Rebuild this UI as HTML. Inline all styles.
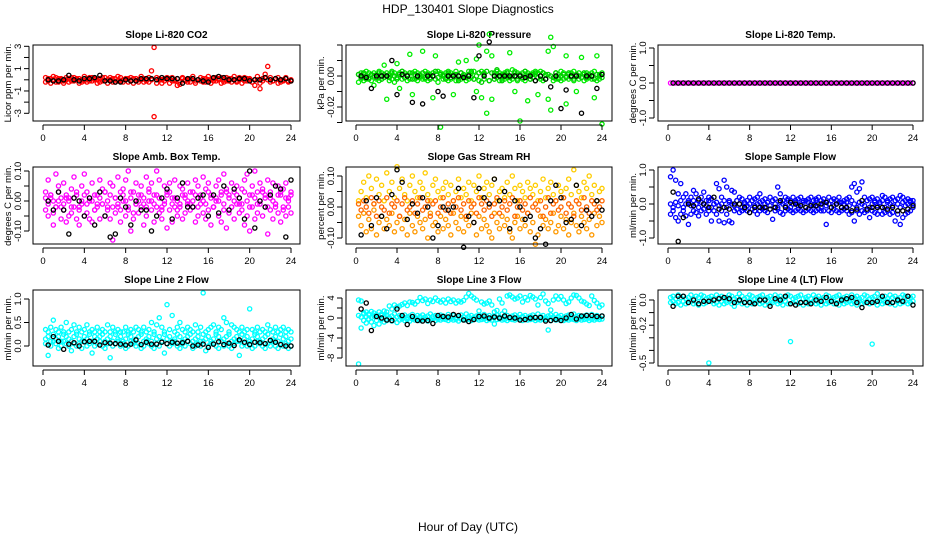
<!DOCTYPE html>
<html><head><meta charset="utf-8">
<style>
html,body{margin:0;padding:0;background:#fff;}
svg{display:block;font-family:"Liberation Sans",sans-serif;}
</style></head>
<body>
<svg id="chart" width="936" height="540" viewBox="0 0 936 540" xmlns="http://www.w3.org/2000/svg">
<text x="468" y="13" text-anchor="middle" font-size="12">HDP_130401  Slope Diagnostics</text>
<text x="468" y="531" text-anchor="middle" font-size="12">Hour of Day (UTC)</text>
</svg>
<script>
const hoursQ=[0.25,0.5,0.75,1,1.25,1.5,1.75,2,2.25,2.5,2.75,3,3.25,3.5,3.75,4,4.25,4.5,4.75,5,5.25,5.5,5.75,6,6.25,6.5,6.75,7,7.25,7.5,7.75,8,8.25,8.5,8.75,9,9.25,9.5,9.75,10,10.25,10.5,10.75,11,11.25,11.5,11.75,12,12.25,12.5,12.75,13,13.25,13.5,13.75,14,14.25,14.5,14.75,15,15.25,15.5,15.75,16,16.25,16.5,16.75,17,17.25,17.5,17.75,18,18.25,18.5,18.75,19,19.25,19.5,19.75,20,20.25,20.5,20.75,21,21.25,21.5,21.75,22,22.25,22.5,22.75,23,23.25,23.5,23.75,24];
const hoursH=[0.5,1,1.5,2,2.5,3,3.5,4,4.5,5,5.5,6,6.5,7,7.5,8,8.5,9,9.5,10,10.5,11,11.5,12,12.5,13,13.5,14,14.5,15,15.5,16,16.5,17,17.5,18,18.5,19,19.5,20,20.5,21,21.5,22,22.5,23,23.5,24];
const xTicks=[0,4,8,12,16,20,24];

// Panel 1: CO2
const co2A=[0.2,-0.1,0.1,0.3,-0.2,0.1,0.0,-0.3,0.2,0.1,-0.1,0.2,0.0,0.1,-0.2,0.3,0.1,-0.1,0.2,0.0,-0.3,0.1,0.2,-0.1,0.0,0.2,-0.2,0.1,0.3,-0.1,0.0,0.1,-0.2,0.2,0.1,-0.1,0.0,0.3,-0.2,0.1,0.2,0.8,2.9,0.2,0.0,-0.3,0.1,0.2,0.1,0.2,-0.1,0.1,-0.4,0.2,0.0,-0.2,0.1,0.3,-0.1,0.0,0.2,-0.2,0.1,0.3,0.0,-0.1,0.2,0.1,-0.3,0.0,0.2,-0.1,0.1,0.3,-0.2,0.0,0.1,0.2,-0.1,0.1,-0.2,0.0,0.3,-0.8,0.1,0.5,1.2,0.2,-0.1,0.1,0.2,-0.2,0.0,0.1,-0.1,0.0];
const co2B=[-0.2,0.1,-0.3,0.0,0.2,-0.2,0.1,-0.1,0.0,-0.2,0.2,-0.1,0.1,-0.3,0.0,-0.1,-0.2,0.2,-0.1,0.1,0.0,-0.2,-0.1,0.2,-0.3,0.0,0.1,-0.2,-0.1,0.2,-0.2,0.0,0.1,-0.1,-0.3,0.1,-0.2,0.0,0.1,-0.1,-0.2,0.0,-3.3,-0.3,0.1,0.0,-0.1,0.1,-0.3,-0.1,0.0,-0.5,-0.2,0.1,-0.1,0.0,-0.2,0.1,-0.3,0.0,-0.1,0.1,-0.2,0.0,-0.3,0.1,-0.1,0.0,0.2,-0.2,-0.1,0.1,-0.2,0.0,-0.1,0.2,-0.3,-0.1,0.1,0.0,-0.2,-0.5,0.0,-0.3,-0.1,0.2,0.0,-0.2,-0.1,0.1,-0.3,0.0,-0.1,0.2,-0.2,-0.1];
const co2K=[0.0,-0.1,-0.1,0.0,0.4,0.0,-0.1,0.1,0.1,0.2,0.4,-0.1,-0.1,-0.2,-0.2,0.0,-0.1,-0.1,0.1,0.1,0.1,0.0,0.2,0.1,0.1,0.1,-0.3,0.1,0.1,0.0,-0.1,-0.2,0.2,0.3,0.2,0.0,0.0,0.1,0.1,-0.1,0.0,0.0,0.2,0.0,0.1,0.0,0.1,-0.1];

// Panel 2: Pressure
const prA=[.001,.002,.001,.003,.002,.001,.002,.001,.003,.002,.007,.002,.001,.003,.002,.008,.002,.003,.002,.001,.014,.002,.003,.002,.001,.016,.003,.002,.001,.002,.013,.003,.002,.001,.002,.003,.002,.001,.003,.009,.002,.001,.010,.003,.002,.003,.011,.020,.003,.002,.016,.027,.013,.002,.003,.002,.001,.002,.003,.015,.004,.003,.002,.001,.002,.003,.002,.001,.002,.003,.002,.003,.002,.001,.016,.025,.019,.002,.001,.003,.002,.013,.001,.002,.003,.001,.002,.012,.001,.002,.001,.002,.003,.013,.001,.002];
const prB=[-.004,-.002,-.003,-.002,-.001,-.003,-.006,-.002,-.003,-.002,-.001,-.015,-.003,-.002,-.004,-.001,-.008,-.002,-.001,-.003,-.002,-.012,-.002,-.003,-.001,-.002,-.002,-.003,-.001,-.014,-.002,-.004,-.033,-.002,-.001,-.003,-.002,-.012,-.003,-.002,-.002,-.001,-.003,-.002,-.001,-.002,-.010,-.003,-.014,-.002,-.024,-.003,-.015,-.002,-.001,-.003,-.002,-.002,-.001,-.003,-.002,-.010,-.003,-.029,-.002,-.003,-.016,-.002,-.001,-.003,-.012,-.002,-.003,-.002,-.015,-.022,-.003,-.002,-.001,-.003,-.002,-.018,-.002,-.001,-.003,-.010,-.002,-.001,-.003,-.002,-.001,-.002,-.014,-.003,-.002,-.031];
const prC=[.001,-.001,.002,.000,-.002,.001,.000,-.001,.002,-.002,.001,.000,-.001,.002,.000,-.002,.001,.003,-.001,.000,.002,-.002,.001,-.001,.000,.002,-.001,.001,-.002,.000,.003,-.001,.001,.000,-.002,.002,-.001,.000,.001,-.003,.002,.000,-.001,.001,.003,-.002,.000,.002,-.004,.001,.003,-.003,.002,-.002,.004,.000,-.003,.001,.002,-.001,.000,.002,-.002,.001,-.001,.003,.000,-.002,.001,.002,-.001,.000,.002,-.002,.001,.000,-.001,.002,-.002,.000,.001,-.001,.002,.000,-.002,.001,.000,-.001,.002,-.001,.001,.000,-.002,.001,.000,-.001];
const prK=[0.000,-0.001,-0.008,0.000,0.000,0.000,0.010,-0.012,0.001,0.000,-0.017,0.000,-0.018,0.000,0.000,-0.010,-0.013,0.000,0.000,0.000,-0.001,0.000,-0.014,0.013,0.000,0.022,0.000,0.000,0.000,0.000,0.000,0.000,-0.001,0.000,-0.003,0.000,-0.002,-0.007,0.000,-0.021,-0.009,0.000,0.000,-0.024,0.000,0.000,-0.008,0.001];

// Panel 3: Li-820 Temp
const ltA=[0,0,0,0,0,0,0,0,0,0,0,0,0,0,0,0,0,0,0,0,0,0,0,0,0,0,0,0,0,0,0,0,0,0,0,0,0,0,0,0,0,0,0,0,0,0,0,0,0,0,0,0,0,0,0,0,0,0,0,0,0,0,0,0,0,0,0,0,0,0,0,0,0,0,0,0,0,0,0,0,0,0,0,0,0,0,0,0,0,0,0,0,0,0,0,0];
const ltK=[0,0,0,0,0,0,0,0,0,0,0,0,0,0,0,0,0,0,0,0,0,0,0,0,0,0,0,0,0,0,0,0,0,0,0,0,0,0,0,0,0,0,0,0,0,0,0,0];

// Panel 4: Amb Box Temp
const abA=[0.03,0.07,0.02,-0.04,0.09,0.05,-0.02,0.06,0.01,-0.05,0.04,0.08,0.02,-0.03,0.05,0.09,0.03,-0.06,0.06,0.02,-0.01,0.07,0.04,0.03,-0.02,0.06,0.05,0.01,0.08,-0.03,0.04,0.07,0.10,0.03,-0.04,0.06,0.02,0.05,-0.01,0.08,0.04,0.06,0.02,0.10,0.07,-0.02,0.05,0.03,0.06,0.01,0.07,-0.03,0.05,0.04,0.02,0.06,-0.01,0.03,0.07,0.05,0.02,0.08,0.04,0.06,0.01,-0.02,0.05,0.07,0.03,0.09,0.04,0.02,0.06,0.03,0.05,-0.01,0.04,0.07,0.09,0.02,0.05,0.10,0.03,0.06,0.04,0.01,0.07,0.03,0.06,-0.02,0.05,0.02,0.04,0.06,0.01,0.03];
const abB=[-0.03,-0.05,0.01,-0.08,-0.02,0.00,-0.06,-0.03,-0.07,0.01,-0.04,-0.02,-0.06,-0.08,-0.01,-0.05,-0.04,0.00,-0.07,-0.03,-0.02,-0.06,-0.01,-0.05,-0.03,-0.06,-0.13,-0.04,-0.02,-0.07,0.00,-0.05,-0.03,-0.10,-0.06,-0.01,-0.04,-0.02,-0.08,-0.05,0.00,-0.03,-0.07,-0.02,-0.04,-0.06,-0.01,-0.09,-0.03,-0.07,-0.02,-0.05,-0.01,-0.06,-0.04,0.00,-0.03,-0.02,-0.07,-0.05,-0.01,-0.04,-0.06,-0.03,-0.08,-0.02,0.00,-0.05,-0.07,-0.03,-0.09,-0.04,-0.02,-0.06,-0.01,-0.04,-0.03,-0.08,-0.05,-0.10,-0.02,-0.06,-0.04,-0.01,-0.05,-0.02,-0.11,-0.03,-0.06,-0.01,-0.04,-0.07,-0.03,-0.05,-0.02,-0.04];
const abC=[0.01,-0.01,0.02,0.00,-0.02,0.03,0.01,-0.01,0.02,0.00,-0.02,0.01,0.03,-0.02,0.00,0.02,-0.01,0.01,0.00,-0.03,0.02,0.01,-0.01,0.03,0.00,0.02,-0.02,0.01,-0.01,0.03,0.02,0.00,-0.02,0.01,0.03,-0.01,0.00,0.02,0.01,-0.02,0.03,0.00,-0.01,0.02,0.01,-0.03,0.00,0.02,0.03,-0.01,0.01,0.00,-0.02,0.02,0.01,-0.01,0.03,0.00,0.02,-0.02,0.01,0.00,-0.01,0.03,0.02,-0.02,0.01,0.00,0.02,-0.01,0.03,0.01,-0.02,0.00,0.02,0.01,-0.01,0.03,0.00,-0.02,0.02,0.01,-0.01,0.00,0.03,0.02,-0.02,0.01,0.00,-0.01,0.02,0.03,-0.02,0.01,0.00,0.02];
const abK=[0.00,-0.03,0.03,-0.03,-0.11,0.01,0.00,-0.05,0.01,-0.08,0.03,-0.05,-0.12,-0.11,0.01,-0.02,-0.08,0.00,-0.03,-0.03,-0.10,-0.05,0.01,0.04,-0.06,0.01,0.06,-0.02,-0.02,0.01,0.02,-0.05,0.02,-0.04,0.05,-0.03,0.04,0.01,-0.06,0.10,-0.09,0.00,-0.02,0.02,0.05,0.04,-0.12,0.07];

// Panel 5: Gas Stream RH
const rhA=[0.02,0.05,0.08,0.03,0.10,0.06,0.01,0.09,0.04,0.07,0.02,0.11,0.05,0.08,0.03,0.13,0.06,0.09,0.04,0.02,0.07,0.10,0.05,0.03,0.08,0.06,0.11,0.04,0.02,0.07,0.09,0.05,0.03,0.06,0.08,0.04,0.07,0.02,0.05,0.09,0.03,0.06,0.04,0.08,0.02,0.07,0.05,0.10,0.03,0.06,0.08,0.04,0.07,0.09,0.02,0.05,0.06,0.03,0.08,0.04,0.10,0.06,0.02,0.07,0.05,0.03,0.08,0.06,0.04,0.07,0.02,0.05,0.09,0.03,0.06,0.08,0.04,0.02,0.07,0.05,0.03,0.06,0.09,0.04,0.12,0.07,0.05,0.03,0.08,0.06,0.10,0.04,0.07,0.02,0.05,0.06];
const rhB=[-0.03,-0.06,-0.02,-0.08,-0.04,-0.07,-0.01,-0.09,-0.05,-0.03,-0.07,-0.04,-0.06,-0.02,-0.08,-0.05,-0.03,-0.07,-0.04,-0.09,-0.02,-0.06,-0.08,-0.03,-0.05,-0.07,-0.04,-0.10,-0.02,-0.06,-0.05,-0.08,-0.03,-0.07,-0.04,-0.06,-0.09,-0.02,-0.05,-0.07,-0.03,-0.08,-0.04,-0.06,-0.02,-0.05,-0.09,-0.03,-0.07,-0.04,-0.06,-0.08,-0.10,-0.02,-0.05,-0.07,-0.03,-0.06,-0.04,-0.08,-0.10,-0.05,-0.03,-0.07,-0.04,-0.06,-0.02,-0.08,-0.05,-0.12,-0.09,-0.03,-0.06,-0.04,-0.07,-0.05,-0.02,-0.08,-0.06,-0.03,-0.07,-0.04,-0.09,-0.05,-0.02,-0.06,-0.08,-0.03,-0.05,-0.07,-0.04,-0.09,-0.02,-0.06,-0.03,-0.05];
const rhC=[0.01,-0.01,0.02,0.00,-0.02,0.03,0.01,-0.03,0.02,0.00,-0.01,0.03,-0.02,0.01,0.00,0.02,-0.03,0.01,0.03,-0.01,0.00,0.02,-0.02,0.01,0.03,-0.01,0.00,0.02,-0.03,0.01,0.02,-0.02,0.00,0.03,-0.01,0.01,-0.02,0.02,0.00,0.03,-0.01,0.01,-0.03,0.02,0.00,0.01,-0.02,0.03,0.01,-0.01,0.02,0.00,-0.03,0.01,0.03,-0.02,0.00,0.02,-0.01,0.01,0.03,-0.03,0.00,0.02,-0.01,0.01,-0.02,0.03,0.00,0.01,-0.01,0.02,-0.03,0.00,0.03,-0.02,0.01,0.02,-0.01,0.00,0.03,-0.02,0.01,0.00,-0.03,0.02,0.01,-0.01,0.03,0.00,-0.02,0.02,0.01,-0.01,0.00,0.02];
const rhK=[-0.09,0.02,-0.06,0.03,-0.03,-0.07,0.04,0.12,0.08,-0.04,0.01,-0.02,0.03,0.00,-0.10,-0.06,0.00,-0.01,0.00,0.06,-0.13,-0.03,-0.05,0.06,0.03,0.01,0.09,0.02,0.05,-0.07,0.02,0.00,-0.04,-0.03,-0.10,-0.07,-0.12,0.02,0.07,0.03,-0.05,-0.04,0.07,-0.06,-0.01,-0.03,0.02,-0.01];

// Panel 6: Sample Flow
const sfA=[0.8,1.0,0.7,0.3,0.6,0.2,0.3,0.1,0.2,0.4,0.3,0.1,0.2,0.35,0.1,0.2,0.15,0.0,0.6,0.45,0.2,0.7,0.5,0.1,0.4,0.35,0.1,0.2,0.15,0.0,0.1,0.2,0.1,0.15,0.2,0.3,0.1,0.15,0.05,0.2,0.1,0.15,0.5,0.3,0.1,0.2,0.15,0.1,0.2,0.1,0.15,0.2,0.05,0.1,0.15,0.2,0.1,0.15,0.2,0.1,0.15,0.05,0.2,0.1,0.15,0.1,0.2,0.05,0.1,0.15,0.2,0.5,0.6,0.35,0.45,0.65,0.2,0.1,0.15,0.2,0.1,0.15,0.05,0.25,0.2,0.1,0.15,0.2,0.1,0.15,0.25,0.2,0.1,0.15,0.05,0.1];
const sfB=[-0.3,-0.2,-0.4,-0.5,-0.3,-0.2,-0.35,-0.6,-0.3,-0.2,-0.25,-0.35,-0.2,-0.15,-0.3,-0.2,-0.5,-0.2,-0.3,-0.5,-0.2,-0.55,-0.3,-0.5,-0.55,-0.2,-0.15,-0.25,-0.2,-0.15,-0.2,-0.25,-0.15,-0.2,-0.3,-0.2,-0.15,-0.2,-0.25,-0.15,-0.45,-0.2,-0.15,-0.25,-0.3,-0.2,-0.15,-0.2,-0.25,-0.2,-0.15,-0.2,-0.25,-0.2,-0.15,-0.2,-0.25,-0.2,-0.15,-0.2,-0.2,-0.6,-0.2,-0.25,-0.15,-0.2,-0.25,-0.2,-0.15,-0.2,-0.3,-0.25,-0.5,-0.2,-0.3,-0.2,-0.25,-0.2,-0.4,-0.2,-0.25,-0.3,-0.2,-0.3,-0.25,-0.2,-0.3,-0.25,-0.5,-0.3,-0.6,-0.4,-0.3,-0.25,-0.2,-0.1];
const sfC=[0.0,-0.1,0.05,-0.05,0.1,-0.1,0.0,0.05,-0.05,0.1,0.0,-0.1,0.05,0.0,-0.05,0.1,-0.1,0.0,0.05,-0.05,0.0,0.1,-0.1,0.05,0.0,-0.05,0.1,0.0,-0.1,0.05,-0.05,0.0,0.1,-0.05,0.0,0.05,-0.1,0.0,0.05,-0.05,0.1,0.0,-0.1,0.05,0.0,-0.05,0.1,-0.1,0.0,0.05,-0.05,0.0,0.1,-0.1,0.05,0.0,-0.05,0.1,0.0,-0.1,0.05,-0.05,0.0,0.1,-0.05,0.0,0.05,-0.1,0.0,0.05,-0.05,0.1,0.0,-0.1,0.05,0.0,-0.05,0.1,-0.1,0.0,0.05,-0.05,0.0,0.1,-0.1,0.05,0.0,-0.05,0.1,0.0,-0.1,0.05,-0.05,0.0,0.1,0.0];
const sfK=[0.35,-1.1,-0.4,0.0,-0.05,0.15,0.0,-0.1,0.2,-0.15,-0.1,-0.15,0.0,0.0,-0.1,-0.25,-0.1,-0.1,-0.1,-0.15,-0.1,0.1,-0.1,0.05,0.0,-0.05,-0.1,-0.05,-0.05,0.0,0.05,-0.1,0.0,-0.1,-0.1,-0.2,-0.15,0.1,-0.15,-0.1,-0.1,-0.1,-0.15,-0.1,-0.2,-0.2,-0.15,-0.05];

// Panel 7: Line 2 Flow
const l2A=[0.35,0.3,0.4,0.55,0.35,0.3,0.4,0.3,0.5,0.3,0.35,0.45,0.3,0.4,0.3,0.35,0.45,0.3,0.35,0.3,0.4,0.3,0.35,0.3,0.45,0.3,0.4,0.3,0.35,0.3,0.3,0.4,0.3,0.35,0.3,0.4,0.35,0.3,0.4,0.3,0.35,0.5,0.3,0.45,0.6,0.4,0.3,0.88,0.35,0.65,0.3,0.4,0.5,0.35,0.3,0.4,0.35,0.3,0.45,0.3,0.4,1.13,0.3,0.35,0.4,0.45,0.3,0.4,0.35,0.6,0.5,0.3,0.45,0.4,0.35,0.3,0.4,0.3,0.35,0.79,0.35,0.3,0.4,0.3,0.35,0.3,0.45,0.35,0.3,0.4,0.3,0.35,0.4,0.3,0.35,0.3];
const l2B=[0.05,-0.2,0.0,0.1,0.05,-0.05,0.0,0.1,0.05,0.0,-0.1,0.05,0.0,0.05,-0.05,0.1,0.0,0.05,-0.15,0.0,0.05,0.1,0.0,-0.05,0.05,-0.25,0.0,0.05,0.1,0.0,0.05,-0.05,0.0,0.1,0.05,0.0,0.05,-0.05,0.0,0.1,0.05,0.0,-0.05,0.05,0.0,0.1,-0.15,0.05,0.0,0.05,0.1,0.0,-0.05,0.05,0.0,0.1,0.05,-0.05,0.0,0.05,0.0,0.1,-0.1,0.0,0.05,0.05,0.0,-0.05,0.1,0.0,0.05,0.0,-0.05,0.05,0.1,-0.2,0.0,0.05,0.0,0.05,-0.05,0.0,0.1,0.05,0.0,-0.05,0.05,0.0,0.1,0.0,-0.05,0.05,0.0,0.05,-0.05,0.0];
const l2C=[0.15,0.2,0.1,0.25,0.15,0.2,0.1,0.25,0.2,0.15,0.1,0.2,0.25,0.15,0.1,0.2,0.15,0.25,0.1,0.2,0.15,0.2,0.25,0.1,0.15,0.2,0.1,0.25,0.15,0.2,0.1,0.15,0.25,0.2,0.1,0.15,0.2,0.25,0.1,0.15,0.2,0.1,0.25,0.15,0.2,0.1,0.25,0.15,0.2,0.1,0.15,0.25,0.2,0.1,0.15,0.2,0.25,0.1,0.15,0.2,0.1,0.25,0.15,0.2,0.1,0.15,0.25,0.2,0.1,0.15,0.2,0.25,0.1,0.15,0.2,0.1,0.25,0.15,0.2,0.1,0.15,0.25,0.2,0.1,0.15,0.2,0.25,0.1,0.15,0.2,0.1,0.25,0.15,0.2,0.1,0.15];
const l2K=[0.02,0.2,0.1,-0.07,0.04,0.07,0.0,0.09,0.1,0.1,0.02,0.07,0.06,0.05,0.04,0.02,0.04,0.13,0.03,0.08,0.04,0.04,0.08,0.05,0.08,0.06,0.07,0.1,0.0,0.02,0.04,-0.03,0.04,0.09,0.03,0.06,0.01,0.13,0.08,0.03,0.08,0.07,0.05,0.12,0.08,0.03,0.0,0.0];

// Panel 8: Line 3 Flow
const l3A=[3.6,3.4,1.0,1.2,0.8,1.3,1.0,0.6,1.2,0.8,1.4,1.2,2.4,1.8,2.6,2.2,2.4,2.7,3.0,2.5,3.2,3.1,2.8,3.3,4.1,3.5,3.8,2.9,3.6,3.3,4.0,3.5,3.2,3.6,3.0,3.8,3.3,3.6,3.0,3.4,3.2,3.5,4.2,4.9,4.4,4.0,3.6,1.4,3.2,2.8,3.0,3.4,2.6,1.2,1.5,3.8,3.0,1.4,4.4,4.6,4.2,3.8,4.0,4.4,3.2,4.1,3.6,4.5,4.2,3.8,2.6,4.1,4.8,3.4,2.9,1.6,3.6,4.4,3.8,4.3,3.6,2.9,3.2,4.0,4.6,4.5,4.0,3.4,3.2,2.8,2.5,4.4,3.5,3.0,2.2,2.6];
const l3B=[-9.2,-2.0,-0.5,-1.0,-0.2,-0.8,-1.5,-0.5,-1.2,-0.3,-0.8,-0.5,-0.2,-0.6,-0.3,-0.9,-0.4,-0.2,-0.5,-0.3,-0.6,-0.2,-0.4,-0.3,-0.5,-0.2,-0.3,-0.6,-0.4,-0.2,-0.5,-0.3,-0.4,-0.2,-0.3,-0.5,-0.2,-0.4,-0.3,-0.6,-0.2,-0.3,-0.4,-0.2,-0.5,-0.3,-0.2,-0.4,-0.3,-0.2,-0.5,-0.3,-0.4,-1.2,-0.3,-0.2,-0.4,-0.3,-0.5,-0.2,-0.3,-0.4,-0.2,-0.3,-0.5,-0.2,-0.4,-0.3,-0.2,-0.5,-0.3,-0.4,-0.2,-0.3,-2.4,-0.5,-0.2,-0.4,-0.3,-0.2,-0.5,-0.3,-0.4,-0.2,-0.3,-0.5,-0.2,-0.4,-0.3,-0.2,-0.5,-0.3,-0.4,-0.2,-0.3,-0.2];
const l3C=[0.5,0.2,0.8,0.3,0.6,0.1,0.4,0.7,0.2,0.5,0.3,0.6,0.1,0.4,0.8,0.2,0.5,0.3,0.6,0.2,0.4,0.7,0.1,0.5,0.3,0.6,0.2,0.4,0.8,0.3,0.5,0.1,0.6,0.4,0.2,0.7,0.3,0.5,0.1,0.4,0.6,0.2,0.8,0.3,0.5,0.1,0.4,0.6,0.2,0.7,0.3,0.5,0.1,0.4,0.6,0.2,0.8,0.3,0.5,0.1,0.4,0.6,0.2,0.7,0.3,0.5,0.1,0.4,0.6,0.2,0.8,0.3,0.5,0.1,0.4,0.6,0.2,0.7,0.3,0.5,0.1,0.4,0.6,0.2,0.8,0.3,0.5,0.1,0.4,0.6,0.2,0.7,0.3,0.5,0.1,0.4];
const l3K=[1.8,3.0,-2.5,0.3,0.0,-0.4,-0.5,1.8,0.5,-1.3,0.3,-0.5,-0.6,-0.5,-1.1,0.5,0.3,0.2,0.7,0.5,-0.4,-0.7,-0.3,0.3,0.4,0.0,0.2,0.0,0.4,0.1,0.0,-0.4,-0.3,0.0,0.1,0.1,-0.6,-0.5,-0.3,-0.5,0.0,0.7,-0.2,0.4,0.5,0.5,0.3,0.4];

// Panel 9: Line 4 (LT) Flow
const l4A=[0.02,0.03,0.01,0.04,0.02,0.03,0.01,0.02,0.04,0.01,0.03,0.02,0.04,0.03,0.01,0.02,0.03,0.01,0.04,0.02,0.03,0.01,0.02,0.04,0.03,0.01,0.02,0.05,0.03,0.01,0.02,0.04,0.03,0.01,0.02,0.03,0.04,0.01,0.02,0.03,0.01,0.04,0.02,0.03,0.01,0.02,0.04,0.03,0.01,0.02,0.03,0.04,0.01,0.02,0.03,0.01,0.04,0.02,0.03,0.01,0.02,0.04,0.03,0.01,0.02,0.03,0.04,0.01,0.02,0.03,0.01,0.04,0.02,0.03,0.01,0.02,0.04,0.03,0.01,0.02,0.03,0.05,0.01,0.02,0.03,0.01,0.04,0.02,0.03,0.01,0.02,0.04,0.03,0.01,0.02,0.03];
const l4B=[-0.02,-0.01,-0.03,-0.02,-0.04,-0.01,-0.03,-0.02,-0.01,-0.03,-0.02,-0.04,-0.01,-0.03,-0.02,-0.5,-0.01,-0.03,-0.02,-0.04,-0.01,-0.03,-0.02,-0.01,-0.03,-0.05,-0.02,-0.01,-0.03,-0.02,-0.04,-0.01,-0.03,-0.02,-0.01,-0.03,-0.02,-0.04,-0.01,-0.03,-0.02,-0.01,-0.03,-0.02,-0.04,-0.01,-0.03,-0.33,-0.02,-0.01,-0.03,-0.02,-0.04,-0.01,-0.03,-0.02,-0.01,-0.03,-0.02,-0.04,-0.01,-0.03,-0.02,-0.01,-0.03,-0.02,-0.04,-0.01,-0.03,-0.02,-0.01,-0.03,-0.02,-0.04,-0.01,-0.03,-0.02,-0.01,-0.03,-0.35,-0.02,-0.04,-0.01,-0.03,-0.02,-0.01,-0.03,-0.02,-0.04,-0.01,-0.03,-0.02,-0.01,-0.03,-0.02,-0.01];
const l4K=[-0.05,0.03,0.03,-0.02,0.0,-0.03,-0.01,-0.01,0.0,0.01,0.02,0.01,-0.02,0.0,-0.02,-0.02,-0.03,0.0,0.0,-0.05,0.01,0.0,0.03,-0.03,-0.04,-0.02,-0.02,-0.03,0.0,-0.01,0.02,-0.01,-0.03,0.0,0.01,0.02,-0.02,-0.06,-0.02,-0.02,-0.01,0.03,-0.02,-0.02,0.0,-0.01,0.03,-0.04];
</script>
<script>
const svg=document.getElementById('chart');
const NS='http://www.w3.org/2000/svg';

const cols=[{l:33,r:300,x0:43,x24:291},{l:346,r:612,x0:356,x24:602},{l:658,r:923,x0:668,x24:913}];
const rows=[{t:45,b:121},{t:167,b:244},{t:290,b:366}];

const panels=[
 {name:'co2',title:'Slope Li-820 CO2',ylab:'Licor ppm per min.',c:0,r:0,v1:3,p1:46.3,v2:-3,p2:113.3,ticks:[-3,-2,-1,0,1,2,3],labels:['-3','-1','1','3'],labelVals:[-3,-1,1,3],series:[[co2A,'#ff0000'],[co2B,'#ff0000']],black:co2K},
 {name:'pressure',title:'Slope Li-820 Pressure',ylab:'kPa per min.',c:1,r:0,v1:0,p1:76,v2:-0.02,p2:107,ticks:[0.02,0.01,0,-0.01,-0.02,-0.03],labels:['0.00','-0.02'],labelVals:[0,-0.02],series:[[prA,'#00ee00'],[prB,'#00ee00'],[prC,'#00cc00']],black:prK},
 {name:'licor-temp',title:'Slope Li-820 Temp.',ylab:'degrees C per min.',c:2,r:0,v1:1,p1:48,v2:-1,p2:118,ticks:[-1,-0.5,0,0.5,1],labels:['-1.0','0.0','1.0'],labelVals:[-1,0,1],series:[[ltA,'#ff00ff']],black:ltK},
 {name:'amb-box-temp',title:'Slope Amb. Box Temp.',ylab:'degrees C per min.',c:0,r:1,v1:0.1,p1:171,v2:-0.1,p2:231,ticks:[-0.1,-0.05,0,0.05,0.1],labels:['-0.10','0.00','0.10'],labelVals:[-0.1,0,0.1],series:[[abA,'#ff00ff'],[abB,'#ff00ff'],[abC,'#ff00ff']],black:abK},
 {name:'gas-rh',title:'Slope Gas Stream RH',ylab:'percent per min.',c:1,r:1,v1:0.1,p1:176,v2:-0.1,p2:238,ticks:[-0.1,-0.05,0,0.05,0.1],labels:['-0.10','0.00','0.10'],labelVals:[-0.1,0,0.1],series:[[rhA,'#ffcc00'],[rhB,'#ff9900'],[rhC,'#ff6600']],black:rhK},
 {name:'sample-flow',title:'Slope Sample Flow',ylab:'ml/min per min.',c:2,r:1,v1:1,p1:170,v2:-1,p2:238,ticks:[-1,-0.5,0,0.5,1],labels:['-1.0','0.0','1.0'],labelVals:[-1,0,1],series:[[sfA,'#0000ff'],[sfB,'#0000ff'],[sfC,'#0000ff']],black:sfK},
 {name:'line2-flow',title:'Slope Line 2 Flow',ylab:'ml/min per min.',c:0,r:2,v1:1,p1:299,v2:0,p2:346,ticks:[0,0.5,1],labels:['0.0','0.5','1.0'],labelVals:[0,0.5,1],series:[[l2A,'#00ffff'],[l2B,'#00ffff'],[l2C,'#00ffff']],black:l2K},
 {name:'line3-flow',title:'Slope Line 3 Flow',ylab:'ml/min per min.',c:1,r:2,v1:4,p1:298,v2:-8,p2:358,ticks:[-8,-6,-4,-2,0,2,4],labels:['-8','-4','0','4'],labelVals:[-8,-4,0,4],series:[[l3A,'#00ffff'],[l3B,'#00ffff'],[l3C,'#00ffff']],black:l3K},
 {name:'line4-flow',title:'Slope Line 4 (LT) Flow',ylab:'ml/min per min.',c:2,r:2,v1:0,p1:300,v2:-0.5,p2:363,ticks:[0,-0.1,-0.2,-0.3,-0.4,-0.5],labels:['0.0','-0.2','-0.5'],labelVals:[0,-0.2,-0.5],series:[[l4A,'#00ffff'],[l4B,'#00ffff']],black:l4K}
];

panels.forEach(p=>{
 const C=cols[p.c],R=rows[p.r];
 const xs=h=>C.x0+(C.x24-C.x0)*h/24;
 const ys=v=>p.p1+(p.p2-p.p1)*(v-p.v1)/(p.v2-p.v1);
 const g=document.createElementNS(NS,'g');
 
 
 svg.appendChild(g);
 function add(tag,attrs){const e=document.createElementNS(NS,tag);for(const k in attrs)e.setAttribute(k,attrs[k]);g.appendChild(e);return e;}
 const t=add('text',{x:(C.l+C.r)/2,y:R.t-7,'text-anchor':'middle','font-size':'10','font-weight':'bold'});
 t.textContent=p.title;
 
 
 const yl=add('text',{x:0,y:0,'text-anchor':'middle','font-size':'9.5',transform:`translate(${C.l-22},${(R.t+R.b)/2}) rotate(-90)`});
 yl.textContent=p.ylab;
 
 
 p.series.forEach(([arr,col])=>{
  const n=Math.min(arr.length,hoursQ.length);
  for(let i=0;i<n;i++){
   const c=add('circle',{cx:xs(hoursQ[i]),cy:ys(arr[i]),r:2.1,fill:'none',stroke:col,'stroke-width':1.3});
   
   
  }
 });
 const nk=Math.min(p.black.length,hoursH.length);
 for(let i=0;i<nk;i++){
  const c=add('circle',{cx:xs(hoursH[i]),cy:ys(p.black[i]),r:2.1,fill:'none',stroke:'#000','stroke-width':1.3});
  
  
 }
 const fr=add('rect',{x:C.l,y:R.t,width:C.r-C.l,height:R.b-R.t,fill:'none',stroke:'#000','stroke-width':1});
 
 
 add('line',{x1:xs(0),x2:xs(24),y1:R.b+4,y2:R.b+4,stroke:'#000'});
 xTicks.forEach(v=>{
  add('line',{x1:xs(v),x2:xs(v),y1:R.b+4,y2:R.b+9,stroke:'#000'});
  const tl=add('text',{x:xs(v),y:R.b+20,'text-anchor':'middle','font-size':'9.5'});
  tl.textContent=String(v);
  
  
 });
 const tv=p.ticks.map(ys).filter(y=>y>=R.t-3&&y<=R.b+3);
 add('line',{x1:C.l-4,x2:C.l-4,y1:Math.min(...tv),y2:Math.max(...tv),stroke:'#000'});
 p.ticks.forEach(v=>{const y=ys(v);if(y<R.t-3||y>R.b+3)return;add('line',{x1:C.l-9,x2:C.l-4,y1:y,y2:y,stroke:'#000'});});
 p.labelVals.forEach((v,i)=>{
  const yl2=add('text',{x:0,y:0,'text-anchor':'middle','font-size':'9.5',transform:`translate(${C.l-12},${ys(v)}) rotate(-90)`});
  yl2.textContent=p.labels[i];
  
  
 });
});
</script>
</body></html>
